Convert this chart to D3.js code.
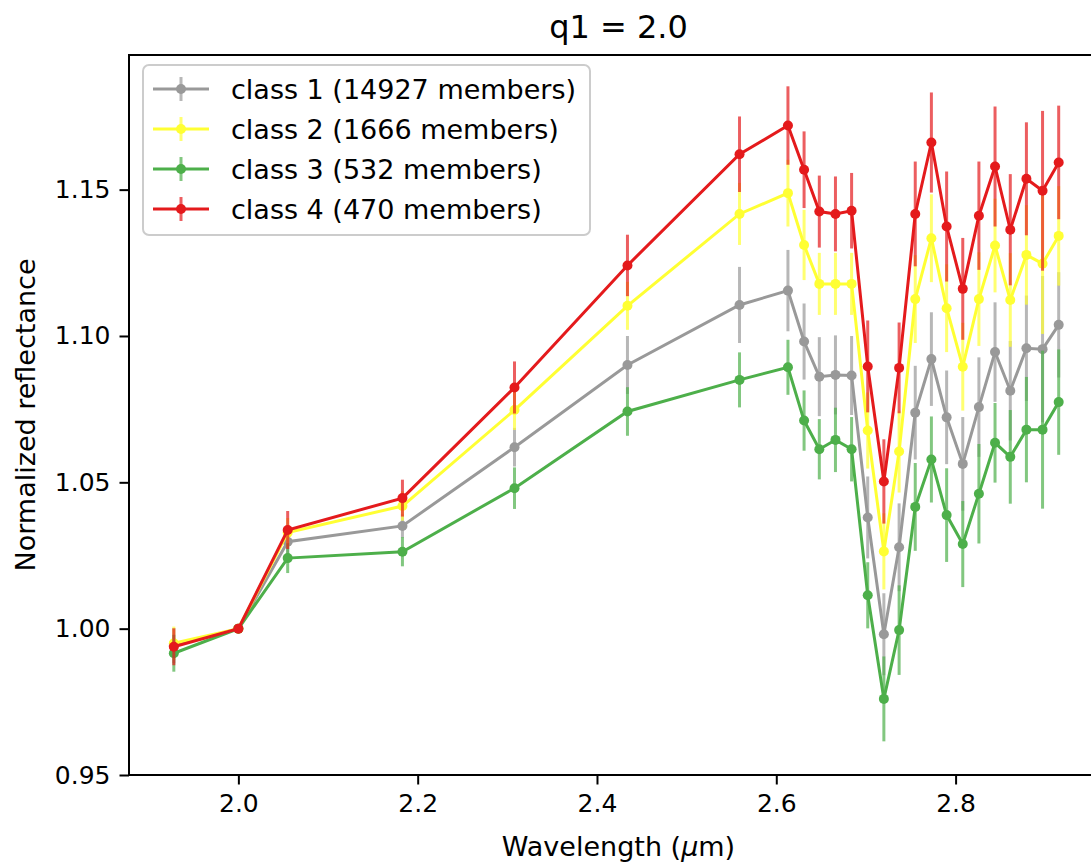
<!DOCTYPE html>
<head>
<meta charset="utf-8">
<style>
    body {
        margin: 0;
        background: white;
    }
    svg {
        display: block;
        font-family: "DejaVu Sans", sans-serif;
    }
    .axis line {
        stroke: #000;
        stroke-width: 2px;
    }
    .errbar {
        stroke-width: 3px;
        stroke-opacity: .7;
    }
    .series-line {
        fill: none;
        stroke-width: 3px;
    }
</style>
</head>
<body>
<div id="chart"></div>
<script src="https://cdn.jsdelivr.net/npm/d3@7"></script>
<script>
// wavelength grid (micron)
var wavelengths = [1.928, 2.0, 2.055, 2.183, 2.308, 2.434, 2.559, 2.613, 2.631, 2.648, 2.666, 2.684,
                   2.702, 2.720, 2.737, 2.755, 2.773, 2.790, 2.808, 2.826, 2.844, 2.861, 2.879, 2.897, 2.915];

var classNames = ["class 1 (14927 members)", "class 2 (1666 members)", "class 3 (532 members)", "class 4 (470 members)"];
var classColors = ["#999999", "#ffff33", "#4daf4a", "#e41a1c"];

var class1 = [0.9942, 1.0, 1.0297, 1.0351, 1.0620, 1.0901, 1.1106, 1.1155, 1.0981, 1.0861, 1.0867, 1.0865,
              1.0380, 0.9981, 1.0278, 1.0738, 1.0921, 1.0722, 1.0563, 1.0757, 1.0945, 1.0813, 1.0958, 1.0955, 1.1038];
var class1Err = [0.006, 0, 0.005, 0.004, 0.0066, 0.0099, 0.013, 0.0139, 0.013, 0.0135, 0.0135, 0.0135,
                 0.014, 0.014, 0.015, 0.016, 0.016, 0.016, 0.016, 0.017, 0.017, 0.017, 0.018, 0.025, 0.018];

var class2 = [0.9950, 1.0, 1.0328, 1.0419, 1.0747, 1.1103, 1.1417, 1.1488, 1.1311, 1.1178, 1.1178, 1.1178,
              1.0677, 1.0264, 1.0605, 1.1126, 1.1334, 1.1095, 1.0895, 1.1126, 1.1309, 1.1123, 1.1277, 1.1247, 1.1342];
var class2Err = [0.0057, 0, 0.005, 0.005, 0.0068, 0.0082, 0.0106, 0.0114, 0.012, 0.0106, 0.0106, 0.0106,
                 0.013, 0.013, 0.014, 0.015, 0.015, 0.015, 0.015, 0.016, 0.016, 0.016, 0.017, 0.024, 0.017];

var class3 = [0.9916, 1.0, 1.0241, 1.0263, 1.0480, 1.0742, 1.0850, 1.0893, 1.0711, 1.0613, 1.0645, 1.0613,
              1.0114, 0.9760, 0.9995, 1.0416, 1.0578, 1.0388, 1.0289, 1.0461, 1.0635, 1.0587, 1.0680, 1.0680, 1.0774];
var class3Err = [0.0063, 0, 0.0051, 0.005, 0.0071, 0.0083, 0.0094, 0.0094, 0.0103, 0.0103, 0.011, 0.011,
                 0.0113, 0.0145, 0.0153, 0.015, 0.0147, 0.016, 0.0147, 0.017, 0.0136, 0.016, 0.018, 0.027, 0.018];

var class4 = [0.9938, 1.0, 1.0337, 1.0446, 1.0824, 1.1241, 1.1621, 1.1719, 1.1568, 1.1425, 1.1417, 1.1428,
              1.0896, 1.0503, 1.0891, 1.1417, 1.1661, 1.1374, 1.1161, 1.1411, 1.1579, 1.1363, 1.1537, 1.1496, 1.1593];
var class4Err = [0.0063, 0, 0.0065, 0.0063, 0.0089, 0.0105, 0.0129, 0.0134, 0.0131, 0.0123, 0.0128, 0.0129,
                 0.0157, 0.0144, 0.0155, 0.0179, 0.0171, 0.0188, 0.0174, 0.0185, 0.0205, 0.019, 0.0193, 0.0273, 0.0194];

var xTicks = [2.0, 2.2, 2.4, 2.6, 2.8];
var yTicks = [0.95, 1.00, 1.05, 1.10, 1.15];

var values = [class1, class2, class3, class4];
var errors = [class1Err, class2Err, class3Err, class4Err];
var series = classNames.map(function(name, i) {
    return {
        name: name,
        color: classColors[i],
        points: wavelengths.map(function(w, j) {
            return {x: w, y: values[i][j], err: errors[i][j]};
        })
    };
});

var width = 1091, height = 864;
var plot = {left: 129, top: 55, right: 1108, bottom: 775};

var svg = d3.select("#chart").append("svg")
    .attr("width", width)
    .attr("height", height);

var x = d3.scaleLinear().domain([1.878, 2.970]).range([plot.left, plot.right]);
var y = d3.scaleLinear().domain([0.95, 1.196]).range([plot.bottom, plot.top]);

// axes
var xAxis = svg.append("g")
    .attr("class", "axis")
    .attr("transform", "translate(0," + plot.bottom + ")")
    .call(d3.axisBottom(x).tickValues(xTicks).tickFormat(d3.format(".1f"))
        .tickSize(9.5).tickPadding(10));
xAxis.select(".domain").remove();

var yAxis = svg.append("g")
    .attr("class", "axis")
    .attr("transform", "translate(" + plot.left + ",0)")
    .call(d3.axisLeft(y).tickValues(yTicks).tickFormat(d3.format(".2f"))
        .tickSize(9.5).tickPadding(9));
yAxis.select(".domain").remove();

svg.selectAll(".axis")
    .attr("font-size", null)
    .attr("font-family", null);
svg.selectAll(".axis text")
    .style("font-size", "25px")
    .style("font-family", "'DejaVu Sans', sans-serif")
    .attr("fill", "#000");

// data
var line = d3.line()
    .x(function(d) { return x(d.x); })
    .y(function(d) { return y(d.y); });

var groups = svg.append("g")
    .selectAll("g")
    .data(series)
    .enter().append("g");

groups.selectAll("line.errbar")
    .data(function(d) { return d.points.filter(function(p) { return p.err > 0; }); })
    .enter().append("line")
    .attr("class", "errbar")
    .attr("x1", function(d) { return x(d.x); })
    .attr("x2", function(d) { return x(d.x); })
    .attr("y1", function(d) { return y(d.y - d.err); })
    .attr("y2", function(d) { return y(d.y + d.err); })
    .attr("stroke", function() { return d3.select(this.parentNode).datum().color; });

groups.append("path")
    .attr("class", "series-line")
    .attr("d", function(d) { return line(d.points); })
    .attr("stroke", function(d) { return d.color; });

groups.selectAll("circle")
    .data(function(d) { return d.points; })
    .enter().append("circle")
    .attr("cx", function(d) { return x(d.x); })
    .attr("cy", function(d) { return y(d.y); })
    .attr("r", 5)
    .attr("fill", function() { return d3.select(this.parentNode).datum().color; });

// spines (right one falls outside the picture)
svg.append("rect")
    .attr("x", plot.left)
    .attr("y", plot.top)
    .attr("width", plot.right - plot.left)
    .attr("height", plot.bottom - plot.top)
    .attr("fill", "none")
    .attr("stroke", "#000")
    .attr("stroke-width", 2);

// legend
var legend = svg.append("g").attr("transform", "translate(143,65)");
legend.append("rect")
    .attr("width", 447)
    .attr("height", 170)
    .attr("rx", 6)
    .attr("fill", "white")
    .attr("fill-opacity", 0.8)
    .attr("stroke", "#cccccc")
    .attr("stroke-width", 2);

var entry = legend.selectAll("g.entry")
    .data(series)
    .enter().append("g")
    .attr("class", "entry")
    .attr("transform", function(d, i) { return "translate(0," + (24 + i * 40) + ")"; });

entry.append("line")
    .attr("x1", 38).attr("x2", 38)
    .attr("y1", -12).attr("y2", 12)
    .attr("stroke", function(d) { return d.color; })
    .attr("stroke-width", 3)
    .attr("stroke-opacity", 0.7);
entry.append("line")
    .attr("x1", 10).attr("x2", 66)
    .attr("stroke", function(d) { return d.color; })
    .attr("stroke-width", 3);
entry.append("circle")
    .attr("cx", 38)
    .attr("r", 5)
    .attr("fill", function(d) { return d.color; });
entry.append("text")
    .attr("x", 88)
    .attr("y", 9.5)
    .attr("font-size", 27)
    .attr("fill", "#000")
    .text(function(d) { return d.name; });

// titles
svg.append("text")
    .attr("x", (plot.left + plot.right) / 2)
    .attr("y", 38)
    .attr("text-anchor", "middle")
    .attr("font-size", 32)
    .text("q1 = 2.0");

var xLabel = svg.append("text")
    .attr("x", (plot.left + plot.right) / 2)
    .attr("y", 856)
    .attr("text-anchor", "middle")
    .attr("font-size", 27);
xLabel.append("tspan").text("Wavelength (");
xLabel.append("tspan").attr("font-style", "italic").text("\u03bc");
xLabel.append("tspan").text("m)");

svg.append("text")
    .attr("transform", "translate(35," + ((plot.top + plot.bottom) / 2) + ") rotate(-90)")
    .attr("text-anchor", "middle")
    .attr("font-size", 27)
    .text("Normalized reflectance");
</script>
</body>
